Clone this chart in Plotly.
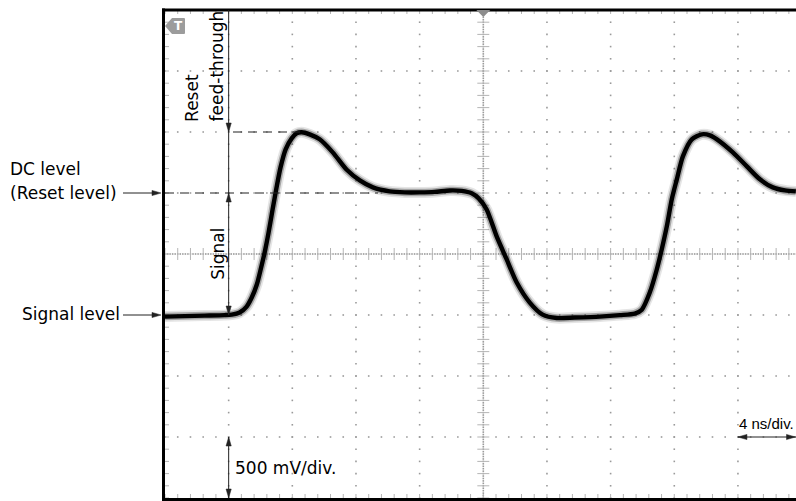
import numpy as np
import plotly.graph_objects as go

# ---- data (time in ns, voltage in mV) ----
time_ns = [0.0, 1.24, 2.49, 3.74, 4.19, 4.69, 5.13, 5.45, 5.77, 6.01, 6.26, 6.51, 6.76, 7.01,
           7.26, 7.58, 7.96, 8.27, 8.59, 9.09, 9.72, 10.54, 11.42, 12.24, 13.06, 14.12, 15.07,
           16.01, 16.95, 17.90, 18.64, 19.27, 19.71, 20.21, 20.84, 21.47, 22.10, 22.92, 23.73,
           24.61, 25.75, 27.32, 28.58, 29.52, 29.96, 30.46, 30.90, 31.21, 31.53, 31.84, 32.16,
           32.54, 33.10, 33.73, 34.24, 34.68, 35.68, 36.56, 37.38, 38.19, 38.95, 39.64]
volt_mv = [-513, -509, -505, -501, -497, -480, -431, -357, -250, -127, 12, 177, 365, 546,
           710, 858, 948, 990, 998, 981, 940, 833, 690, 603, 546, 513, 505,
           505, 509, 521, 517, 497, 456, 365, 144, -45, -234, -398, -497,
           -525, -521, -513, -501, -488, -456, -316, -127, 37, 226, 447, 612,
           800, 940, 981, 973, 940, 833, 718, 612, 546, 521, 513]

reset_level_mv = 500      # DC level (reset level)
peak_level_mv = 1000      # reset feed-through peak
signal_level_mv = -500    # signal level

NS_PER_DIV = 4
MV_PER_DIV = 500
X_DIVS = 10
Y_DIVS = 8
MINOR = 5

REF_W, REF_H = 796, 501
P_LEFT, P_RIGHT, P_TOP, P_BOT = 165, 796, 10, 498.5
W, H = REF_W, REF_H
ML, MR, MT, MB = P_LEFT, REF_W - P_RIGHT, P_TOP, REF_H - P_BOT
PW = P_RIGHT - P_LEFT
PH = P_BOT - P_TOP
DIV_PX_X = 63.66
X_MAX = PW / DIV_PX_X * NS_PER_DIV
Y_MIN, Y_MAX = -Y_DIVS / 2 * MV_PER_DIV, Y_DIVS / 2 * MV_PER_DIV


def pxx(px):
    return (px - P_LEFT) / PW


def pxy(py):
    return (P_BOT - py) / PH


def v2p(v):
    return (v - Y_MIN) / (Y_MAX - Y_MIN)


def px2t(px):
    return (px - P_LEFT) / DIV_PX_X * NS_PER_DIV


fig = go.Figure()

# ---- graticule dots ----
gx, gy = [], []
for i in range(1, X_DIVS):
    if i == X_DIVS // 2:
        continue
    for k in range(-Y_DIVS // 2 * MINOR, Y_DIVS // 2 * MINOR + 1):
        gx.append(i * NS_PER_DIV)
        gy.append(k * MV_PER_DIV / MINOR)
for j in range(-Y_DIVS // 2 + 1, Y_DIVS // 2):
    if j == 0:
        continue
    for k in range(0, X_DIVS * MINOR):
        gx.append(k * NS_PER_DIV / MINOR)
        gy.append(j * MV_PER_DIV)
for k in range(-Y_DIVS // 2 * 25, Y_DIVS // 2 * 25 + 1):
    gx.append(X_DIVS / 2 * NS_PER_DIV)
    gy.append(k * MV_PER_DIV / 25)
for k in range(0, X_DIVS * 25):
    gx.append(k * NS_PER_DIV / 25)
    gy.append(0)
fig.add_trace(go.Scatter(x=gx, y=gy, mode="markers", hoverinfo="skip",
                         marker=dict(symbol="square", size=1.6, color="#9a9a9a", line_width=0)))

# ---- tick marks on centre lines and edges ----
tx_, ty_ = [], []
cx = X_DIVS / 2 * NS_PER_DIV
hx = 6 / DIV_PX_X * NS_PER_DIV
hy = 6 / PH * (Y_MAX - Y_MIN)
ex = 4 / DIV_PX_X * NS_PER_DIV
ey = 4 / PH * (Y_MAX - Y_MIN)
for k in range(-Y_DIVS // 2 * MINOR, Y_DIVS // 2 * MINOR + 1):
    v = k * MV_PER_DIV / MINOR
    tx_ += [cx - hx, cx + hx, None, 0, ex, None]
    ty_ += [v, v, None, v, v, None]
for k in range(0, X_DIVS * MINOR):
    t = k * NS_PER_DIV / MINOR
    tx_ += [t, t, None, t, t, None, t, t, None]
    ty_ += [-hy, hy, None, Y_MAX, Y_MAX - ey, None, Y_MIN, Y_MIN + ey, None]
fig.add_trace(go.Scatter(x=tx_, y=ty_, mode="lines", hoverinfo="skip",
                         line=dict(color="#b5b5b5", width=1)))

# ---- waveform (noise halo + core) ----
for wdt, col in [(11, "rgba(0,0,0,0.10)"), (7.5, "rgba(0,0,0,0.28)"), (4.4, "#000000")]:
    fig.add_trace(go.Scatter(x=time_ns, y=volt_mv, mode="lines", hoverinfo="skip",
                             line=dict(color=col, width=wdt, shape="spline", smoothing=0.7)))

shapes = []
# frame
shapes.append(dict(type="line", xref="paper", yref="paper", x0=pxx(163.5), x1=pxx(163.5),
                   y0=pxy(REF_H + 2), y1=pxy(8.5), line=dict(color="black", width=3)))
shapes.append(dict(type="line", xref="paper", yref="paper", x0=pxx(162), x1=1.02,
                   y0=pxy(10), y1=pxy(10), line=dict(color="black", width=3)))
shapes.append(dict(type="line", xref="paper", yref="paper", x0=pxx(162), x1=1.02,
                   y0=pxy(500), y1=pxy(500), line=dict(color="black", width=3)))

# dashed reference lines
shapes.append(dict(type="line", x0=px2t(233), x1=px2t(300), y0=peak_level_mv, y1=peak_level_mv,
                   line=dict(color="#222", width=1.2, dash="9px,6px")))
shapes.append(dict(type="line", x0=0, x1=px2t(378), y0=reset_level_mv, y1=reset_level_mv,
                   line=dict(color="#222", width=1.2, dash="9px,6px")))

ALINE = dict(color="#222", width=1)
ax_t = NS_PER_DIV  # arrow column at first division
shapes.append(dict(type="line", x0=ax_t, x1=ax_t, y0=Y_MAX, y1=signal_level_mv, line=ALINE))
shapes.append(dict(type="line", x0=ax_t, x1=ax_t, y0=Y_MIN + MV_PER_DIV, y1=Y_MIN, line=ALINE))
shapes.append(dict(type="line", x0=9 * NS_PER_DIV, x1=px2t(796), y0=Y_MIN + MV_PER_DIV,
                   y1=Y_MIN + MV_PER_DIV, line=ALINE))
for lvl in [reset_level_mv, signal_level_mv]:
    shapes.append(dict(type="line", xref="paper", yref="paper", x0=pxx(123), x1=pxx(156),
                       y0=v2p(lvl), y1=v2p(lvl), line=ALINE))


def head(x, y, direction, xref="x", yref="y"):
    L, hw = 9, 2.6
    paths = {
        "down": f"M0,0 L{-hw},{L} L{hw},{L} Z",
        "up": f"M0,0 L{-hw},{-L} L{hw},{-L} Z",
        "right": f"M0,0 L{-L},{-hw} L{-L},{hw} Z",
        "left": f"M0,0 L{L},{-hw} L{L},{hw} Z",
    }
    return dict(type="path", xref=xref, yref=yref, xsizemode="pixel", ysizemode="pixel",
                xanchor=x, yanchor=y, path=paths[direction],
                fillcolor="#222", line=dict(color="#222", width=0.5))


shapes += [
    head(ax_t, peak_level_mv, "down"),
    head(ax_t, reset_level_mv, "up"),
    head(ax_t, signal_level_mv, "down"),
    head(ax_t, Y_MIN + MV_PER_DIV, "up"),
    head(ax_t, Y_MIN, "down"),
    head(9 * NS_PER_DIV, Y_MIN + MV_PER_DIV, "left"),
    head(px2t(795.5), Y_MIN + MV_PER_DIV, "right"),
    head(pxx(161), v2p(reset_level_mv), "right", "paper", "paper"),
    head(pxx(161), v2p(signal_level_mv), "right", "paper", "paper"),
]

# trigger markers
shapes.append(dict(type="path", xref="paper", yref="paper", xsizemode="pixel", ysizemode="pixel",
                   xanchor=pxx(165), yanchor=pxy(26),
                   path="M0,0 L7,8 L19,8 Q20,8 20,7 L20,-7 Q20,-8 19,-8 L7,-8 Z",
                   fillcolor="#9c9c9c", line=dict(width=0)))
shapes.append(dict(type="path", xref="x", yref="paper", xsizemode="pixel", ysizemode="pixel",
                   xanchor=X_DIVS / 2 * NS_PER_DIV, yanchor=pxy(10),
                   path="M-7,0 L7,0 L0,-7 Z", fillcolor="#8c8c8c", line=dict(width=0)))

FONT = dict(family="DejaVu Sans, Verdana, sans-serif", size=17, color="#000")
ann = []


def text(s, px, py, xa="left", ya="middle", angle=0, font=FONT):
    ann.append(dict(text=s, xref="paper", yref="paper", x=pxx(px), y=pxy(py), xanchor=xa,
                    yanchor=ya, textangle=angle, showarrow=False, font=font, borderpad=0))


text("DC level", 9, 169)
text("(Reset level)", 9, 193)
text("Signal level", 121, 314, xa="right")
text("Reset", 192, 123, xa="center", ya="bottom", angle=-90)
text("feed-through", 217, 123, xa="center", ya="bottom", angle=-90)
text("Signal", 218, 254, xa="center", ya="middle", angle=-90)
text("500 mV/div.", 234, 468)
text("4 ns/div.", 738, 424,
     font=dict(family="Liberation Sans, Arial, sans-serif", size=15, color="#000"))
ann.append(dict(text="<b>T</b>", xref="paper", yref="paper", x=pxx(178.5), y=pxy(26),
                xanchor="center", yanchor="middle", showarrow=False,
                font=dict(family="DejaVu Sans", size=12, color="white")))

fig.update_layout(
    width=W, height=H,
    margin=dict(l=ML, r=MR, t=MT, b=MB, pad=0),
    paper_bgcolor="white", plot_bgcolor="white",
    showlegend=False,
    xaxis=dict(range=[0, X_MAX], visible=False, fixedrange=True),
    yaxis=dict(range=[Y_MIN, Y_MAX], visible=False, fixedrange=True),
    shapes=shapes,
    annotations=ann,
)

fig.write_html("out.html",
               config={"displayModeBar": False},
               post_script="document.body.style.margin='0';"
                           "document.documentElement.style.overflow='hidden';")
